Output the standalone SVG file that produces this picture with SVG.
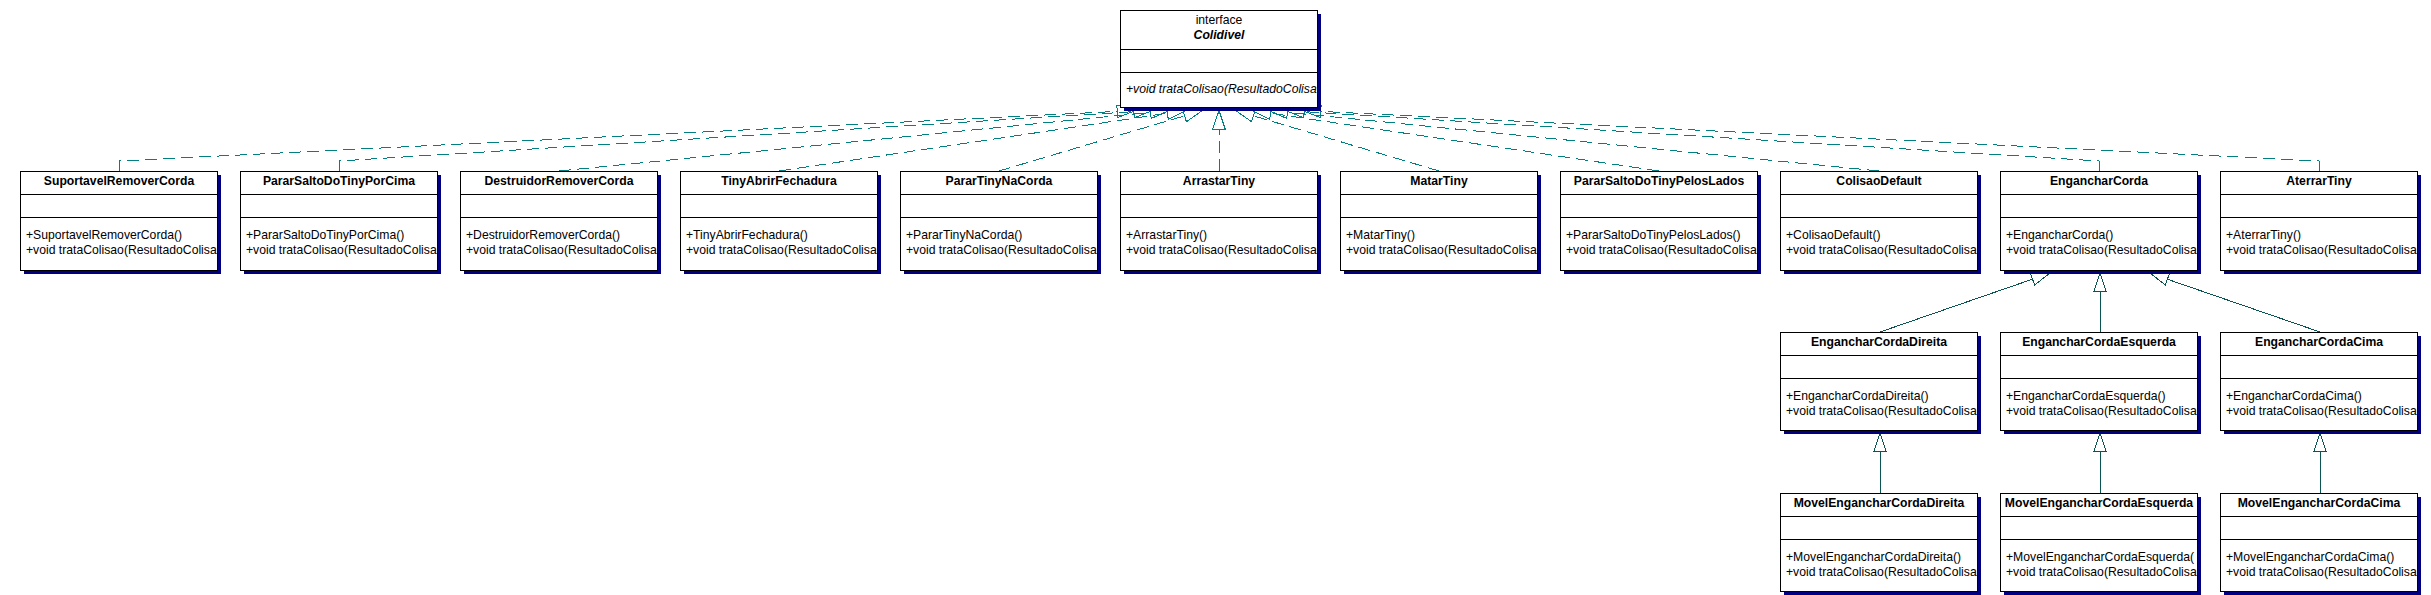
<svg xmlns="http://www.w3.org/2000/svg" width="2431" height="595" viewBox="0 0 2431 595">
<style>
.shadow{fill:#000080}
.box{fill:#ffffff;stroke:#000000;stroke-width:1}
.div{stroke:#000000;stroke-width:1;fill:none}
.t{font-family:"Liberation Sans",Arial,sans-serif;font-size:12.2px;fill:#000000}
.name{font-weight:bold;text-anchor:middle}
.mid{text-anchor:middle}
.bi{font-weight:bold;font-style:italic;text-anchor:middle}
.it{font-style:italic}
#connectors path{shape-rendering:crispEdges}
.real{fill:none;stroke:#008080;stroke-width:1;stroke-dasharray:12 6}
.rhead{fill:none;stroke:#008080;stroke-width:1}
.gen{fill:none;stroke:#0b5454;stroke-width:1}
</style>
<defs>
<clipPath id="clip"><rect x="1" y="1" width="196" height="97"/></clipPath>
</defs>
<rect width="2431" height="595" fill="#ffffff"/>
<g id="connectors">
<path class="real" d="M119 171V161L1117.19 111.42"/>
<path class="rhead" d="M1135.67 110.5L1117.5 117.61L1116.88 105.23Z"/>
<path class="real" d="M339 171V161L1133.87 111.65"/>
<path class="rhead" d="M1152.33 110.5L1134.25 117.84L1133.48 105.46Z"/>
<path class="real" d="M559 171L1150.59 112.34"/>
<path class="rhead" d="M1169 110.5L1151.21 118.51L1149.97 106.17Z"/>
<path class="real" d="M779 171L1167.37 113.24"/>
<path class="rhead" d="M1185.67 110.5L1168.29 119.38L1166.45 107.11Z"/>
<path class="real" d="M999 171L1184.61 115.82"/>
<path class="rhead" d="M1202.33 110.5L1186.39 121.75L1182.83 109.88Z"/>
<path class="real" d="M1219 171V129"/>
<path class="rhead" d="M1219 110.5L1225.2 129L1212.8 129Z"/>
<path class="real" d="M1439 171L1253.39 115.82"/>
<path class="rhead" d="M1235.67 110.5L1251.61 121.75L1255.17 109.88Z"/>
<path class="real" d="M1659 171L1270.63 113.24"/>
<path class="rhead" d="M1252.33 110.5L1269.71 119.38L1271.55 107.11Z"/>
<path class="real" d="M1879 171L1287.41 112.34"/>
<path class="rhead" d="M1269 110.5L1286.79 118.51L1288.03 106.17Z"/>
<path class="real" d="M2099 171V161L1304.13 111.65"/>
<path class="rhead" d="M1285.67 110.5L1303.75 117.84L1304.52 105.46Z"/>
<path class="real" d="M2319 171V161L1320.81 111.42"/>
<path class="rhead" d="M1302.33 110.5L1320.5 117.61L1321.12 105.23Z"/>
<path class="gen" d="M1880 332L2032.56 279.17"/>
<path class="gen" d="M2050 273L2034.63 285.02L2030.49 273.33Z"/>
<path class="gen" d="M2100 332V291.5"/>
<path class="gen" d="M2100 273L2106.2 291.5L2093.8 291.5Z"/>
<path class="gen" d="M2320 332L2167.42 279.24"/>
<path class="gen" d="M2150 273L2169.51 273.4L2165.33 285.08Z"/>
<path class="gen" d="M1880 493V451.5"/>
<path class="gen" d="M1880 433L1886.2 451.5L1873.8 451.5Z"/>
<path class="gen" d="M2100 493V451.5"/>
<path class="gen" d="M2100 433L2106.2 451.5L2093.8 451.5Z"/>
<path class="gen" d="M2320 493V451.5"/>
<path class="gen" d="M2320 433L2326.2 451.5L2313.8 451.5Z"/>
</g>
<g id="Colidivel" transform="translate(1120,10)">
<rect class="shadow" x="4" y="4" width="197" height="97"/>
<rect class="box" x="0.5" y="0.5" width="197" height="97"/>
<path class="div" d="M0.5 39.5H197.5M0.5 62.5H197.5"/>
<g clip-path="url(#clip)">
<text class="t mid" x="99" y="14">interface</text>
<text class="t bi" x="99" y="29">Colidivel</text>
<text class="t it" x="6" y="83">+void trataColisao(ResultadoColisa</text>
</g>
</g>
<g id="SuportavelRemoverCorda" transform="translate(20,171)">
<rect class="shadow" x="4" y="4" width="197" height="99"/>
<rect class="box" x="0.5" y="0.5" width="197" height="99"/>
<path class="div" d="M0.5 23.5H197.5M0.5 46.5H197.5"/>
<g clip-path="url(#clip)">
<text class="t name" x="99" y="14">SuportavelRemoverCorda</text>
<text class="t" x="6" y="68">+SuportavelRemoverCorda()</text>
<text class="t" x="6" y="83">+void trataColisao(ResultadoColisa</text>
</g>
</g>
<g id="PararSaltoDoTinyPorCima" transform="translate(240,171)">
<rect class="shadow" x="4" y="4" width="197" height="99"/>
<rect class="box" x="0.5" y="0.5" width="197" height="99"/>
<path class="div" d="M0.5 23.5H197.5M0.5 46.5H197.5"/>
<g clip-path="url(#clip)">
<text class="t name" x="99" y="14">PararSaltoDoTinyPorCima</text>
<text class="t" x="6" y="68">+PararSaltoDoTinyPorCima()</text>
<text class="t" x="6" y="83">+void trataColisao(ResultadoColisa</text>
</g>
</g>
<g id="DestruidorRemoverCorda" transform="translate(460,171)">
<rect class="shadow" x="4" y="4" width="197" height="99"/>
<rect class="box" x="0.5" y="0.5" width="197" height="99"/>
<path class="div" d="M0.5 23.5H197.5M0.5 46.5H197.5"/>
<g clip-path="url(#clip)">
<text class="t name" x="99" y="14">DestruidorRemoverCorda</text>
<text class="t" x="6" y="68">+DestruidorRemoverCorda()</text>
<text class="t" x="6" y="83">+void trataColisao(ResultadoColisa</text>
</g>
</g>
<g id="TinyAbrirFechadura" transform="translate(680,171)">
<rect class="shadow" x="4" y="4" width="197" height="99"/>
<rect class="box" x="0.5" y="0.5" width="197" height="99"/>
<path class="div" d="M0.5 23.5H197.5M0.5 46.5H197.5"/>
<g clip-path="url(#clip)">
<text class="t name" x="99" y="14">TinyAbrirFechadura</text>
<text class="t" x="6" y="68">+TinyAbrirFechadura()</text>
<text class="t" x="6" y="83">+void trataColisao(ResultadoColisa</text>
</g>
</g>
<g id="PararTinyNaCorda" transform="translate(900,171)">
<rect class="shadow" x="4" y="4" width="197" height="99"/>
<rect class="box" x="0.5" y="0.5" width="197" height="99"/>
<path class="div" d="M0.5 23.5H197.5M0.5 46.5H197.5"/>
<g clip-path="url(#clip)">
<text class="t name" x="99" y="14">PararTinyNaCorda</text>
<text class="t" x="6" y="68">+PararTinyNaCorda()</text>
<text class="t" x="6" y="83">+void trataColisao(ResultadoColisa</text>
</g>
</g>
<g id="ArrastarTiny" transform="translate(1120,171)">
<rect class="shadow" x="4" y="4" width="197" height="99"/>
<rect class="box" x="0.5" y="0.5" width="197" height="99"/>
<path class="div" d="M0.5 23.5H197.5M0.5 46.5H197.5"/>
<g clip-path="url(#clip)">
<text class="t name" x="99" y="14">ArrastarTiny</text>
<text class="t" x="6" y="68">+ArrastarTiny()</text>
<text class="t" x="6" y="83">+void trataColisao(ResultadoColisa</text>
</g>
</g>
<g id="MatarTiny" transform="translate(1340,171)">
<rect class="shadow" x="4" y="4" width="197" height="99"/>
<rect class="box" x="0.5" y="0.5" width="197" height="99"/>
<path class="div" d="M0.5 23.5H197.5M0.5 46.5H197.5"/>
<g clip-path="url(#clip)">
<text class="t name" x="99" y="14">MatarTiny</text>
<text class="t" x="6" y="68">+MatarTiny()</text>
<text class="t" x="6" y="83">+void trataColisao(ResultadoColisa</text>
</g>
</g>
<g id="PararSaltoDoTinyPelosLados" transform="translate(1560,171)">
<rect class="shadow" x="4" y="4" width="197" height="99"/>
<rect class="box" x="0.5" y="0.5" width="197" height="99"/>
<path class="div" d="M0.5 23.5H197.5M0.5 46.5H197.5"/>
<g clip-path="url(#clip)">
<text class="t name" x="99" y="14">PararSaltoDoTinyPelosLados</text>
<text class="t" x="6" y="68">+PararSaltoDoTinyPelosLados()</text>
<text class="t" x="6" y="83">+void trataColisao(ResultadoColisa</text>
</g>
</g>
<g id="ColisaoDefault" transform="translate(1780,171)">
<rect class="shadow" x="4" y="4" width="197" height="99"/>
<rect class="box" x="0.5" y="0.5" width="197" height="99"/>
<path class="div" d="M0.5 23.5H197.5M0.5 46.5H197.5"/>
<g clip-path="url(#clip)">
<text class="t name" x="99" y="14">ColisaoDefault</text>
<text class="t" x="6" y="68">+ColisaoDefault()</text>
<text class="t" x="6" y="83">+void trataColisao(ResultadoColisa</text>
</g>
</g>
<g id="EngancharCorda" transform="translate(2000,171)">
<rect class="shadow" x="4" y="4" width="197" height="99"/>
<rect class="box" x="0.5" y="0.5" width="197" height="99"/>
<path class="div" d="M0.5 23.5H197.5M0.5 46.5H197.5"/>
<g clip-path="url(#clip)">
<text class="t name" x="99" y="14">EngancharCorda</text>
<text class="t" x="6" y="68">+EngancharCorda()</text>
<text class="t" x="6" y="83">+void trataColisao(ResultadoColisa</text>
</g>
</g>
<g id="AterrarTiny" transform="translate(2220,171)">
<rect class="shadow" x="4" y="4" width="197" height="99"/>
<rect class="box" x="0.5" y="0.5" width="197" height="99"/>
<path class="div" d="M0.5 23.5H197.5M0.5 46.5H197.5"/>
<g clip-path="url(#clip)">
<text class="t name" x="99" y="14">AterrarTiny</text>
<text class="t" x="6" y="68">+AterrarTiny()</text>
<text class="t" x="6" y="83">+void trataColisao(ResultadoColisa</text>
</g>
</g>
<g id="EngancharCordaDireita" transform="translate(1780,332)">
<rect class="shadow" x="4" y="4" width="197" height="98"/>
<rect class="box" x="0.5" y="0.5" width="197" height="98"/>
<path class="div" d="M0.5 23.5H197.5M0.5 46.5H197.5"/>
<g clip-path="url(#clip)">
<text class="t name" x="99" y="14">EngancharCordaDireita</text>
<text class="t" x="6" y="68">+EngancharCordaDireita()</text>
<text class="t" x="6" y="83">+void trataColisao(ResultadoColisa</text>
</g>
</g>
<g id="EngancharCordaEsquerda" transform="translate(2000,332)">
<rect class="shadow" x="4" y="4" width="197" height="98"/>
<rect class="box" x="0.5" y="0.5" width="197" height="98"/>
<path class="div" d="M0.5 23.5H197.5M0.5 46.5H197.5"/>
<g clip-path="url(#clip)">
<text class="t name" x="99" y="14">EngancharCordaEsquerda</text>
<text class="t" x="6" y="68">+EngancharCordaEsquerda()</text>
<text class="t" x="6" y="83">+void trataColisao(ResultadoColisa</text>
</g>
</g>
<g id="EngancharCordaCima" transform="translate(2220,332)">
<rect class="shadow" x="4" y="4" width="197" height="98"/>
<rect class="box" x="0.5" y="0.5" width="197" height="98"/>
<path class="div" d="M0.5 23.5H197.5M0.5 46.5H197.5"/>
<g clip-path="url(#clip)">
<text class="t name" x="99" y="14">EngancharCordaCima</text>
<text class="t" x="6" y="68">+EngancharCordaCima()</text>
<text class="t" x="6" y="83">+void trataColisao(ResultadoColisa</text>
</g>
</g>
<g id="MovelEngancharCordaDireita" transform="translate(1780,493)">
<rect class="shadow" x="4" y="4" width="197" height="98"/>
<rect class="box" x="0.5" y="0.5" width="197" height="98"/>
<path class="div" d="M0.5 23.5H197.5M0.5 46.5H197.5"/>
<g clip-path="url(#clip)">
<text class="t name" x="99" y="14">MovelEngancharCordaDireita</text>
<text class="t" x="6" y="68">+MovelEngancharCordaDireita()</text>
<text class="t" x="6" y="83">+void trataColisao(ResultadoColisa</text>
</g>
</g>
<g id="MovelEngancharCordaEsquerda" transform="translate(2000,493)">
<rect class="shadow" x="4" y="4" width="197" height="98"/>
<rect class="box" x="0.5" y="0.5" width="197" height="98"/>
<path class="div" d="M0.5 23.5H197.5M0.5 46.5H197.5"/>
<g clip-path="url(#clip)">
<text class="t name" x="99" y="14">MovelEngancharCordaEsquerda</text>
<text class="t" x="6" y="68">+MovelEngancharCordaEsquerda(</text>
<text class="t" x="6" y="83">+void trataColisao(ResultadoColisa</text>
</g>
</g>
<g id="MovelEngancharCordaCima" transform="translate(2220,493)">
<rect class="shadow" x="4" y="4" width="197" height="98"/>
<rect class="box" x="0.5" y="0.5" width="197" height="98"/>
<path class="div" d="M0.5 23.5H197.5M0.5 46.5H197.5"/>
<g clip-path="url(#clip)">
<text class="t name" x="99" y="14">MovelEngancharCordaCima</text>
<text class="t" x="6" y="68">+MovelEngancharCordaCima()</text>
<text class="t" x="6" y="83">+void trataColisao(ResultadoColisa</text>
</g>
</g>
</svg>
